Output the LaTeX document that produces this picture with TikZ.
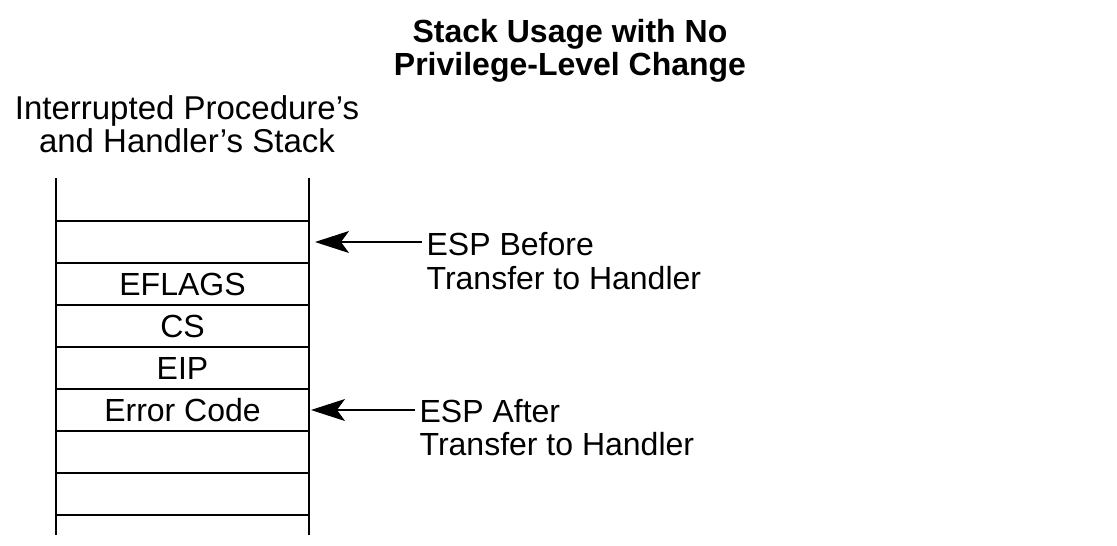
\documentclass[tikz,border=0pt]{standalone}
\usepackage{fontspec}
\setmainfont{Liberation Sans}
\usetikzlibrary{arrows.meta,positioning}

\tikzset{
  cell/.style={minimum width=253pt, minimum height=42pt, inner sep=0pt, outer sep=0pt},
  note/.style={align=left, inner sep=0pt, anchor=west},
  esparrow/.style={line width=1.2pt, -{Stealth[length=34pt,width=22pt,inset=8pt]}}
}

\begin{document}
\begin{tikzpicture}[x=1pt, y=-1pt, font=\fontsize{32}{33.5}\selectfont, line width=1.3pt]
    \useasboundingbox (0,0) rectangle (1117,546);

    % Title and stack label
    \node[align=center, font=\fontsize{32}{33}\selectfont\bfseries] (title) at (570,51) {Stack Usage with No\\Privilege-Level Change};
    \node[align=center, font=\fontsize{33}{33}\selectfont] (stacklabel) at (187,124) {Interrupted Procedure’s\\and Handler’s Stack};

    % Stack slots
    \node[cell] (slot1) at (182.5,242) {};
    \node[cell, below=0pt of slot1] (slot2) {EFLAGS};
    \node[cell, below=0pt of slot2] (slot3) {CS};
    \node[cell, below=0pt of slot3] (slot4) {EIP};
    \node[cell, below=0pt of slot4] (slot5) {Error Code};
    \node[cell, below=0pt of slot5] (slot6) {};
    \node[cell, below=0pt of slot6] (slot7) {};

    % Separators and walls
    \draw (slot1.north west) -- (slot1.north east);
    \foreach \n in {1,...,7}
        \draw (slot\n.south west) -- (slot\n.south east);
    \draw ([yshift=43pt]slot1.north west) -- ([yshift=-20pt]slot7.south west);
    \draw ([yshift=43pt]slot1.north east) -- ([yshift=-20pt]slot7.south east);

    % ESP pointers
    \node[note] (before) at (426,261) {ESP Before\\Transfer to Handler};
    \node[note] (after) at (419,427.5) {ESP After\\Transfer to Handler};
    \coordinate (beforetail) at ([xshift=-4pt]before.west);
    \coordinate (aftertail) at ([xshift=-4pt]after.west);
    \draw[esparrow] (beforetail |- slot1.east) -- ([xshift=6pt]slot1.east);
    \draw[esparrow] (aftertail |- slot5.east) -- ([xshift=2pt]slot5.east);

\end{tikzpicture}
\end{document}
